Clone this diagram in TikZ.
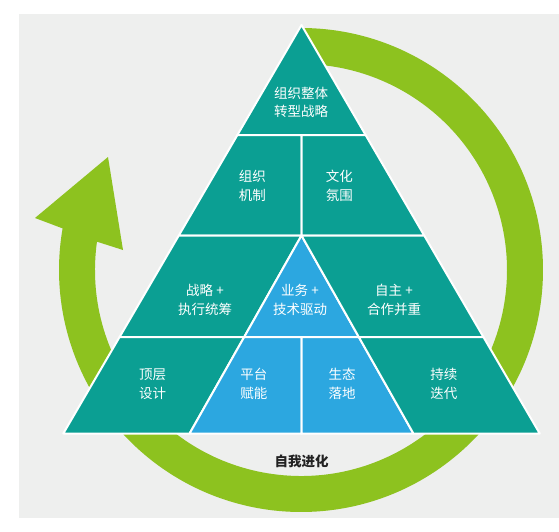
\documentclass[tikz,border=0pt]{standalone}
\usepackage{fontspec}
\newfontfamily\cjk{Noto Sans CJK SC}
\definecolor{bggray}{HTML}{EEEFEE}
\definecolor{teal}{HTML}{0B9F93}
\definecolor{skyblue}{HTML}{2CA7E0}
\definecolor{ringgreen}{HTML}{8DC21F}
\definecolor{darktext}{HTML}{222222}
\tikzset{
  cell/.style={draw=white, line width=2pt, line join=round},
  tealcell/.style={cell, fill=teal},
  bluecell/.style={cell, fill=skyblue},
  lbl/.style={text=white, align=center, inner sep=0pt, font=\cjk\fontsize{13.5}{18.7}\selectfont},
  evo/.style={text=darktext, inner sep=0pt, font=\cjk\bfseries\fontsize{13.5}{18.7}\selectfont}
}
\begin{document}
\begin{tikzpicture}[x=1pt,y=-1pt]
\useasboundingbox (0,0) rectangle (559,532);
\fill[white] (0,0) rectangle (559,532);
\fill[bggray] (19,14) rectangle (559,518);
% ring with arrow
\fill[ringgreen] ([shift={(301,270)}]270.3:242) arc[start angle=270.3, end angle=549.9, radius=242]
  -- (35,218) -- (108,157) -- (123,250)
  -- ([shift={(301,270)}]547.9:206) arc[start angle=547.9, end angle=270.3, radius=206] -- cycle;
% pyramid
\path[tealcell] (301.5,25) -- (365.6,135) -- (237.4,135) -- cycle;
\path[tealcell] (237.4,135) -- (301.5,135) -- (301.5,235.5) -- (178.8,235.5) -- cycle;
\path[tealcell] (301.5,135) -- (365.6,135) -- (424.2,235.5) -- (301.5,235.5) -- cycle;
\path[tealcell] (178.8,235.5) -- (301.5,235.5) -- (244.2,337) -- (119.6,337) -- cycle;
\path[bluecell] (301.5,235.5) -- (358.8,337) -- (244.2,337) -- cycle;
\path[tealcell] (301.5,235.5) -- (424.2,235.5) -- (483.4,337) -- (358.8,337) -- cycle;
\path[tealcell] (119.6,337) -- (244.2,337) -- (189.6,433.5) -- (63.3,433.5) -- cycle;
\path[bluecell] (244.2,337) -- (301.5,337) -- (301.5,433.5) -- (189.6,433.5) -- cycle;
\path[bluecell] (301.5,337) -- (358.8,337) -- (413.4,433.5) -- (301.5,433.5) -- cycle;
\path[tealcell] (358.8,337) -- (483.4,337) -- (539.7,433.5) -- (413.4,433.5) -- cycle;
% labels
\node[lbl] (top) at (301,102.5) {组织整体\\转型战略};
\node[lbl] (mech) at (252.4,186) {组织\\机制};
\node[lbl] (cult) at (339.4,186) {文化\\氛围};
\node[lbl] (strat) at (205,300) {战略 +\\执行统筹};
\node[lbl] (biz) at (300,300) {业务 +\\技术驱动};
\node[lbl] (auto) at (394,300) {自主 +\\合作并重};
\node[lbl] (design) at (152.6,384) {顶层\\设计};
\node[lbl] (plat) at (253.8,384) {平台\\赋能};
\node[lbl] (eco) at (342.2,384) {生态\\落地};
\node[lbl] (iter) at (443.9,384) {持续\\迭代};
\node[evo] (self) at (301.6,461) {自我进化};
\end{tikzpicture}
\end{document}
